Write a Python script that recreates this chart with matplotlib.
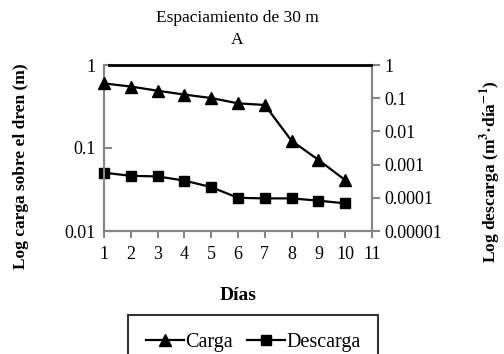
import matplotlib
matplotlib.use("Agg")
import matplotlib.pyplot as plt
from matplotlib.ticker import FixedLocator, FixedFormatter, NullLocator

plt.rcParams['font.family'] = ['Liberation Serif', 'DejaVu Serif']
plt.rcParams['mathtext.fontset'] = 'stix'

dias = [1, 2, 3, 4, 5, 6, 7, 8, 9, 10]
carga = [0.60, 0.55, 0.49, 0.44, 0.40, 0.345, 0.33, 0.122, 0.072, 0.041]
descarga = [0.00057, 0.00046, 0.00044, 0.00033, 0.00021, 0.000100, 0.000096, 0.000096, 0.000082, 0.000068]
x_ticks = [1, 2, 3, 4, 5, 6, 7, 8, 9, 10, 11]
left_ticks = [0.01, 0.1, 1]
left_labels = ["0.01", "0.1", "1"]
right_ticks = [0.00001, 0.0001, 0.001, 0.01, 0.1, 1]
right_labels = ["0.00001", "0.0001", "0.001", "0.01", "0.1", "1"]

W, H = 504, 354
fig = plt.figure(figsize=(W / 100, H / 100), dpi=100)
ax = fig.add_axes([104 / W, (H - 231) / H, 268 / W, 166 / H])
ax2 = ax.twinx()

gray = '#868686'
ax.plot(dias, carga, color='black', lw=1.6, marker='^', markersize=8, label='Carga', clip_on=False, zorder=3)
ax2.plot(dias, descarga, color='black', lw=1.6, marker='s', markersize=7.5, label='Descarga', clip_on=False, zorder=3)

ax.set_yscale('log')
ax2.set_yscale('log')
ax.set_xlim(1, 11)
ax.set_ylim(0.01, 1)
ax2.set_ylim(0.00001, 1)

ax.xaxis.set_major_locator(FixedLocator(x_ticks))
ax.yaxis.set_major_locator(FixedLocator(left_ticks))
ax.yaxis.set_major_formatter(FixedFormatter(left_labels))
ax.yaxis.set_minor_locator(NullLocator())
ax2.yaxis.set_major_locator(FixedLocator(right_ticks))
ax2.yaxis.set_major_formatter(FixedFormatter(right_labels))
ax2.yaxis.set_minor_locator(NullLocator())

fs = 13
ax.tick_params(axis='x', direction='out', length=5, width=1.5, color=gray, labelsize=fs, pad=6)
ax.tick_params(axis='y', direction='in', length=6, width=1.5, color=gray, labelsize=fs, pad=6)
ax2.tick_params(axis='y', direction='out', length=6, width=1.5, color=gray, labelsize=fs, pad=3)

for a in (ax, ax2):
    for s in ('left', 'right', 'bottom'):
        a.spines[s].set_color(gray)
        a.spines[s].set_linewidth(1.5)
    a.spines['top'].set_visible(False)
ax.plot([1.2, 10.95], [1, 1], color='black', lw=2, clip_on=False, zorder=4)

ax.set_zorder(ax2.get_zorder() + 1)
ax.patch.set_visible(False)

fig.text(237 / W, 1 - 18 / H, "Espaciamiento de 30 m", ha='center', va='center', fontsize=12.5)
fig.text(237 / W, 1 - 40 / H, "A", ha='center', va='center', fontsize=12.5)
fig.text(21 / W, 1 - 166 / H, "Log carga sobre el dren (m)", rotation=90, ha='center', va='center',
         fontsize=12.5, fontweight='bold')
fig.text(491 / W, 1 - 172 / H, "Log descarga (m$^{\\mathbf{3}}$·día$^{\\mathbf{-1}}$)", rotation=90,
         ha='center', va='center', fontsize=12.5, fontweight='bold')
fig.text(238 / W, 1 - 296 / H, "Días", ha='center', va='center', fontsize=14, fontweight='bold')

h1, l1 = ax.get_legend_handles_labels()
h2, l2 = ax2.get_legend_handles_labels()
leg = fig.legend(h1 + h2, l1 + l2, loc='upper center', bbox_to_anchor=(253 / W, 1 - 315 / H),
                 ncol=2, frameon=True, fancybox=False, edgecolor='black', fontsize=14.5,
                 handlelength=1.9, handletextpad=0.05, columnspacing=0.7, borderpad=0.9,
                 borderaxespad=0.0)
leg.get_frame().set_linewidth(1.5)

fig.savefig('out.png', dpi=100)
